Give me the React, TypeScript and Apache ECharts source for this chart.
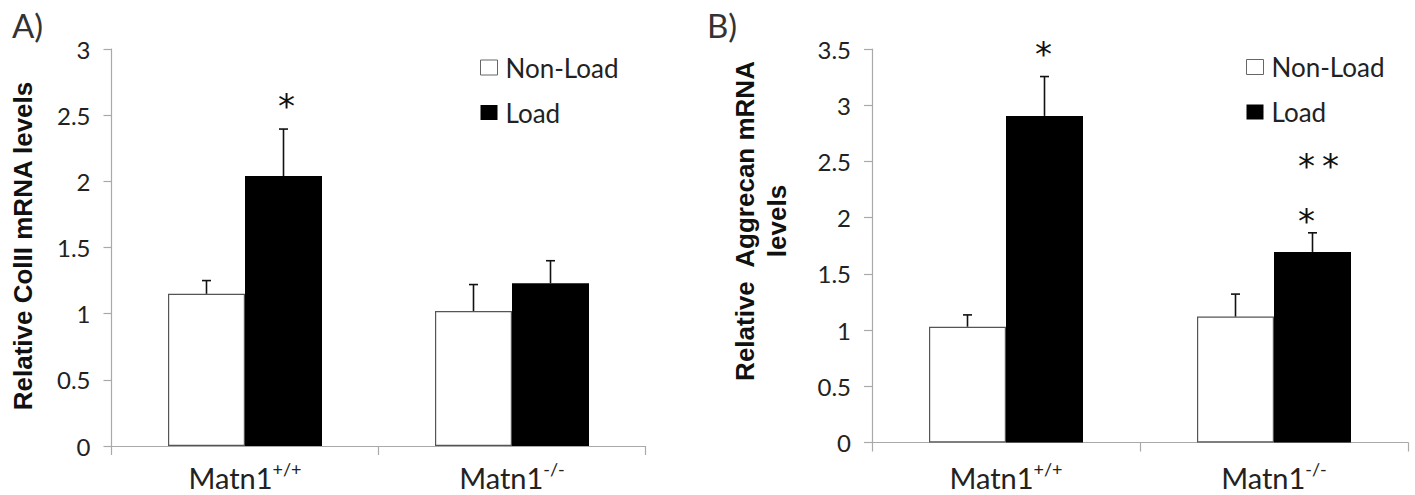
import React, { useEffect, useRef } from "react";
import * as echarts from "echarts";

const categories = ["Matn1+/+", "Matn1-/-"];
const seriesNames = ["Non-Load", "Load"];

// Panel A: Relative ColII mRNA levels
const colIINonLoad = [1.15, 1.02];
const colIINonLoadErr = [0.1, 0.2];
const colIILoad = [2.04, 1.23];
const colIILoadErr = [0.355, 0.17];
const yTicksA = { min: 0, max: 3, interval: 0.5 };
// significance marks A: [categoryIndex, seriesIndex(0 NL,1 L), value, text]
const starsA = [[0, 1, 2.64, "*"]];

// Panel B: Relative Aggrecan mRNA levels
const aggNonLoad = [1.03, 1.12];
const aggNonLoadErr = [0.105, 0.2];
const aggLoad = [2.905, 1.695];
const aggLoadErr = [0.35, 0.17];
const yTicksB = { min: 0, max: 3.5, interval: 0.5 };
const starsB = [
  [0, 1, 3.535, "*"],
  [1, 1, 2.54, "*\u2009*"],
  [1, 1, 2.05, "*"],
];
const starDxA = [3];
const starDxB = [-1, 6, -6];

const FONT = "Lato";
const BAR_W = 77;
const AXIS_COLOR = "#a9a9a9";
const TEXT_COLOR = "#222";

function makeErrSeries(id: string, gridIdx: number, means: number[], errs: number[], sign: number) {
  return {
    type: "custom",
    id,
    xAxisIndex: gridIdx,
    yAxisIndex: gridIdx,
    silent: true,
    z: 5,
    data: means.map((m, i) => [i, m, m + errs[i]]),
    renderItem: (params: any, api: any) => {
      const base = api.coord([api.value(0), api.value(1)]);
      const top = api.coord([api.value(0), api.value(2)]);
      const x = base[0] + (sign * BAR_W) / 2;
      const st = { stroke: "#111", lineWidth: 1.6 };
      return {
        type: "group",
        children: [
          { type: "line", shape: { x1: x, y1: base[1], x2: x, y2: top[1] }, style: st },
          { type: "line", shape: { x1: x - 4.5, y1: top[1], x2: x + 4.5, y2: top[1] }, style: st },
        ],
      };
    },
  };
}

function makeStarSeries(id: string, gridIdx: number, stars: any[], dx: number[]) {
  return {
    type: "custom",
    id,
    xAxisIndex: gridIdx,
    yAxisIndex: gridIdx,
    silent: true,
    z: 6,
    data: stars.map((s) => [s[0], s[2]]),
    renderItem: (params: any, api: any) => {
      const s = stars[params.dataIndex];
      const p = api.coord([api.value(0), api.value(1)]);
      const sign = s[1] === 0 ? -1 : 1;
      return {
        type: "text",
        x: p[0] + (sign * BAR_W) / 2 + (dx[params.dataIndex] || 0),
        y: p[1] + 9,
        style: {
          text: s[3],
          fontFamily: "DejaVu Sans",
          fontSize: 34,
          fill: "#111",
          align: "center",
          verticalAlign: "middle",
        },
      };
    },
  };
}

function catFormatter(v: string) {
  const base = "Matn1";
  const sup = v.slice(base.length);
  return `{a|${base}}{s|${sup}}`;
}

export default function App() {
  const ref = useRef<HTMLDivElement>(null);
  useEffect(() => {
    if (!ref.current) return;
    const chart = echarts.init(ref.current, null, { renderer: "svg" });
    const grids = [
      { left: 111.5, top: 49, width: 534, height: 397 },
      { left: 872, top: 49, width: 536, height: 393.5 },
    ];
    const labelMargins = [14, 17.5];
    const xAxes = grids.map((_, i) => ({
      type: "category",
      gridIndex: i,
      data: categories,
      axisLine: { lineStyle: { color: AXIS_COLOR, width: 1.2 } },
      axisTick: { show: true, length: 9, alignWithLabel: false, interval: 0, lineStyle: { color: AXIS_COLOR, width: 1.2 } },
      axisLabel: {
        margin: labelMargins[i],
        formatter: catFormatter,
        rich: {
          a: { fontFamily: FONT, fontSize: 29, color: TEXT_COLOR, lineHeight: 34 },
          s: { fontFamily: FONT, fontSize: 18, color: TEXT_COLOR, verticalAlign: "top", lineHeight: 22 },
        },
      },
    }));
    const yAxes = [yTicksA, yTicksB].map((t, i) => ({
      type: "value",
      gridIndex: i,
      min: t.min,
      max: t.max,
      interval: t.interval,
      splitLine: { show: false },
      axisLine: { show: true, lineStyle: { color: AXIS_COLOR, width: 1.2 } },
      axisTick: { show: true, length: 8, lineStyle: { color: AXIS_COLOR, width: 1.2 } },
      axisLabel: { margin: 21, fontFamily: FONT, fontSize: 24, color: TEXT_COLOR },
    }));
    const legendData = [
      { name: "Non-Load", itemStyle: { color: "#fff", borderColor: "#666", borderWidth: 1 } },
      { name: "Load", itemStyle: { color: "#000" } },
    ];
    const legendCommon = {
      orient: "vertical",
      icon: "rect",
      itemWidth: 17,
      itemHeight: 15,
      itemGap: 15,
      padding: 0,
      selectedMode: false,
      data: legendData,
      textStyle: { fontFamily: FONT, fontSize: 26, color: TEXT_COLOR, lineHeight: 30, padding: [0, 0, 0, 3] },
    };
    const barSeries = (name: string, gi: number, data: number[], isLoad: boolean) => ({
      type: "bar",
      name,
      xAxisIndex: gi,
      yAxisIndex: gi,
      data,
      barWidth: BAR_W,
      barGap: "0%",
      itemStyle: isLoad
        ? { color: "#000" }
        : { color: "#fff", borderColor: "#555", borderWidth: 1.2 },
    });
    chart.setOption({
      animation: false,
      backgroundColor: "#fff",
      grid: grids,
      xAxis: xAxes,
      yAxis: yAxes,
      legend: [
        { ...legendCommon, left: 480, top: 52.5 },
        { ...legendCommon, left: 1246, top: 52 },
      ],
      graphic: [
        { type: "text", left: 12, top: 8, style: { text: "A)", fontFamily: FONT, fontSize: 33, fill: "#333" } },
        { type: "text", left: 707, top: 8, style: { text: "B)", fontFamily: FONT, fontSize: 33, fill: "#333" } },
        {
          type: "text",
          x: 23,
          y: 246,
          rotation: Math.PI / 2,
          style: {
            text: "Relative ColII mRNA levels",
            fontFamily: "Liberation Sans",
            fontWeight: "bold",
            fontSize: 26,
            fill: "#111",
            align: "center",
            verticalAlign: "middle",
          },
        },
        {
          type: "text",
          x: 761,
          y: 221,
          rotation: Math.PI / 2,
          style: {
            text: "Relative  Aggrecan mRNA\nlevels",
            fontFamily: "Liberation Sans",
            fontWeight: "bold",
            fontSize: 26,
            lineHeight: 32,
            fill: "#111",
            align: "center",
            verticalAlign: "middle",
          },
        },
      ],
      series: [
        barSeries(seriesNames[0], 0, colIINonLoad, false),
        barSeries(seriesNames[1], 0, colIILoad, true),
        barSeries(seriesNames[0], 1, aggNonLoad, false),
        barSeries(seriesNames[1], 1, aggLoad, true),
        makeErrSeries("errA0", 0, colIINonLoad, colIINonLoadErr, -1),
        makeErrSeries("errA1", 0, colIILoad, colIILoadErr, 1),
        makeErrSeries("errB0", 1, aggNonLoad, aggNonLoadErr, -1),
        makeErrSeries("errB1", 1, aggLoad, aggLoadErr, 1),
        makeStarSeries("starsA", 0, starsA, starDxA),
        makeStarSeries("starsB", 1, starsB, starDxB),
      ],
    });
    return () => chart.dispose();
  }, []);
  return (
    <div
      ref={ref}
      style={{ position: "absolute", left: 0, top: 0, width: 1415, height: 495, background: "#fff" }}
    />
  );
}
